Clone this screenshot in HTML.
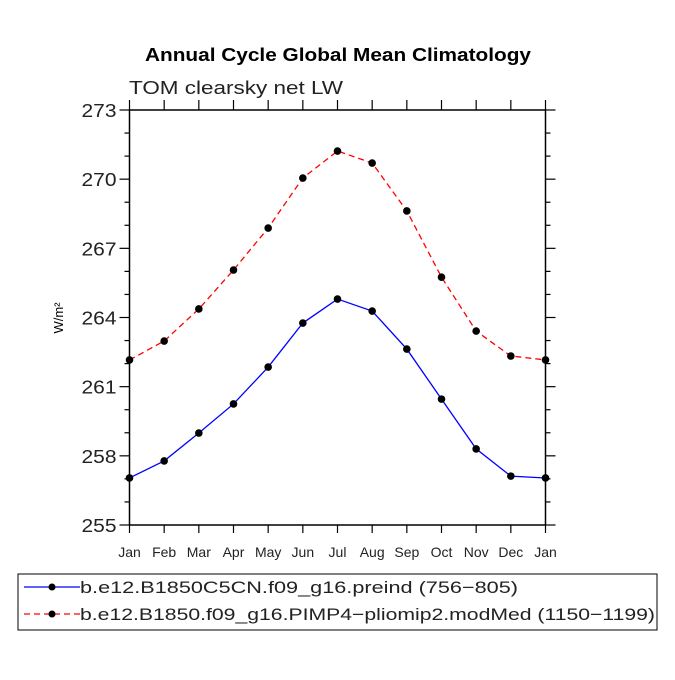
<!DOCTYPE html>
<html><head><meta charset="utf-8"><style>
body{margin:0;background:#fff}
svg text{font-family:"Liberation Sans","DejaVu Sans",sans-serif}
</style></head><body>
<svg id="c" width="675" height="675" xmlns="http://www.w3.org/2000/svg">
<rect width="675" height="675" fill="#fff"/>
<text x="145" y="61" font-size="18" font-weight="bold" textLength="386" lengthAdjust="spacingAndGlyphs">Annual Cycle Global Mean Climatology</text>
<text x="129" y="94" font-size="18" fill="#222" textLength="214" lengthAdjust="spacingAndGlyphs">TOM clearsky net LW</text>
<text transform="translate(63,318) rotate(-90)" text-anchor="middle" font-size="13">W/m²</text>
<g id="axes"></g>
<g id="series"></g>
<g>
<rect x="18" y="574" width="639" height="56" fill="none" stroke="#000" stroke-width="1"/>
<line x1="24" y1="587" x2="80" y2="587" stroke="#00f" stroke-width="1.3"/>
<circle cx="52" cy="587" r="3.5" fill="#000"/>
<text x="80" y="593" font-size="17" fill="#222" textLength="438" lengthAdjust="spacingAndGlyphs">b.e12.B1850C5CN.f09_g16.preind (756−805)</text>
<line x1="24" y1="614" x2="80" y2="614" stroke="#f00" stroke-width="1.3" stroke-dasharray="6,4"/>
<circle cx="52" cy="614" r="3.5" fill="#000"/>
<text x="80" y="620" font-size="17" fill="#222" textLength="575" lengthAdjust="spacingAndGlyphs">b.e12.B1850.f09_g16.PIMP4−pliomip2.modMed (1150−1199)</text>
</g>
</svg>
<script>
const months=["Jan","Feb","Mar","Apr","May","Jun","Jul","Aug","Sep","Oct","Nov","Dec","Jan"];
const preind=[257.04,257.78,258.99,260.25,261.85,263.76,264.80,264.28,262.63,260.46,258.30,257.12,257.04];
const pliomip=[262.16,262.98,264.37,266.06,267.88,270.05,271.22,270.70,268.62,265.75,263.41,262.33,262.16];
const yTicks=[255,258,261,264,267,270,273];
const NS="http://www.w3.org/2000/svg";
const L=129.5,R=545.5,T=110,B=525,ymin=255,ymax=273;
const xs=i=>L+(R-L)*i/(months.length-1);
const ys=v=>B-(v-ymin)/(ymax-ymin)*(B-T);
function mk(t,a,p){const e=document.createElementNS(NS,t);for(const k in a)e.setAttribute(k,a[k]);p.appendChild(e);return e;}
const ax=document.getElementById('axes');
const frame=mk('rect',{x:L,y:T,width:R-L,height:B-T,fill:'none',stroke:'#000','stroke-width':1.5},ax);


for(let v=ymin;v<=ymax;v++){
  const y=ys(v),maj=yTicks.includes(v),len=maj?10:5;
  mk('line',{x1:L-len,y1:y,x2:L,y2:y,stroke:'#000','stroke-width':1.2},ax);
  mk('line',{x1:R,y1:y,x2:R+len,y2:y,stroke:'#000','stroke-width':1.2},ax);
  if(maj){const t=mk('text',{x:L-13,y:y+7,'text-anchor':'end','font-size':18,fill:'#222',textLength:35,lengthAdjust:'spacingAndGlyphs'},ax);t.textContent=v;
    
    }
}
months.forEach((m,i)=>{
  const x=xs(i);
  mk('line',{x1:x,y1:B,x2:x,y2:B+8,stroke:'#000','stroke-width':1.2},ax);
  mk('line',{x1:x,y1:T-10,x2:x,y2:T,stroke:'#000','stroke-width':1.2},ax);
  const t=mk('text',{x:x,y:B+32,'text-anchor':'middle','font-size':14,fill:'#222'},ax);t.textContent=m;
  
  
});
const sg=document.getElementById('series');
function draw(vals,color,dash,name){
  const pl=mk('polyline',{points:vals.map((v,i)=>xs(i)+','+ys(v)).join(' '),fill:'none',stroke:color,'stroke-width':1.3},sg);
  if(dash)pl.setAttribute('stroke-dasharray',dash);
  
  
  vals.forEach((v,i)=>{const c=mk('circle',{cx:xs(i),cy:ys(v),r:3.8,fill:'#000'},sg);
    
    });
}
draw(preind,'#00f',null,'preind');
draw(pliomip,'#f00','6,4','pliomip');
</script>
</body></html>
